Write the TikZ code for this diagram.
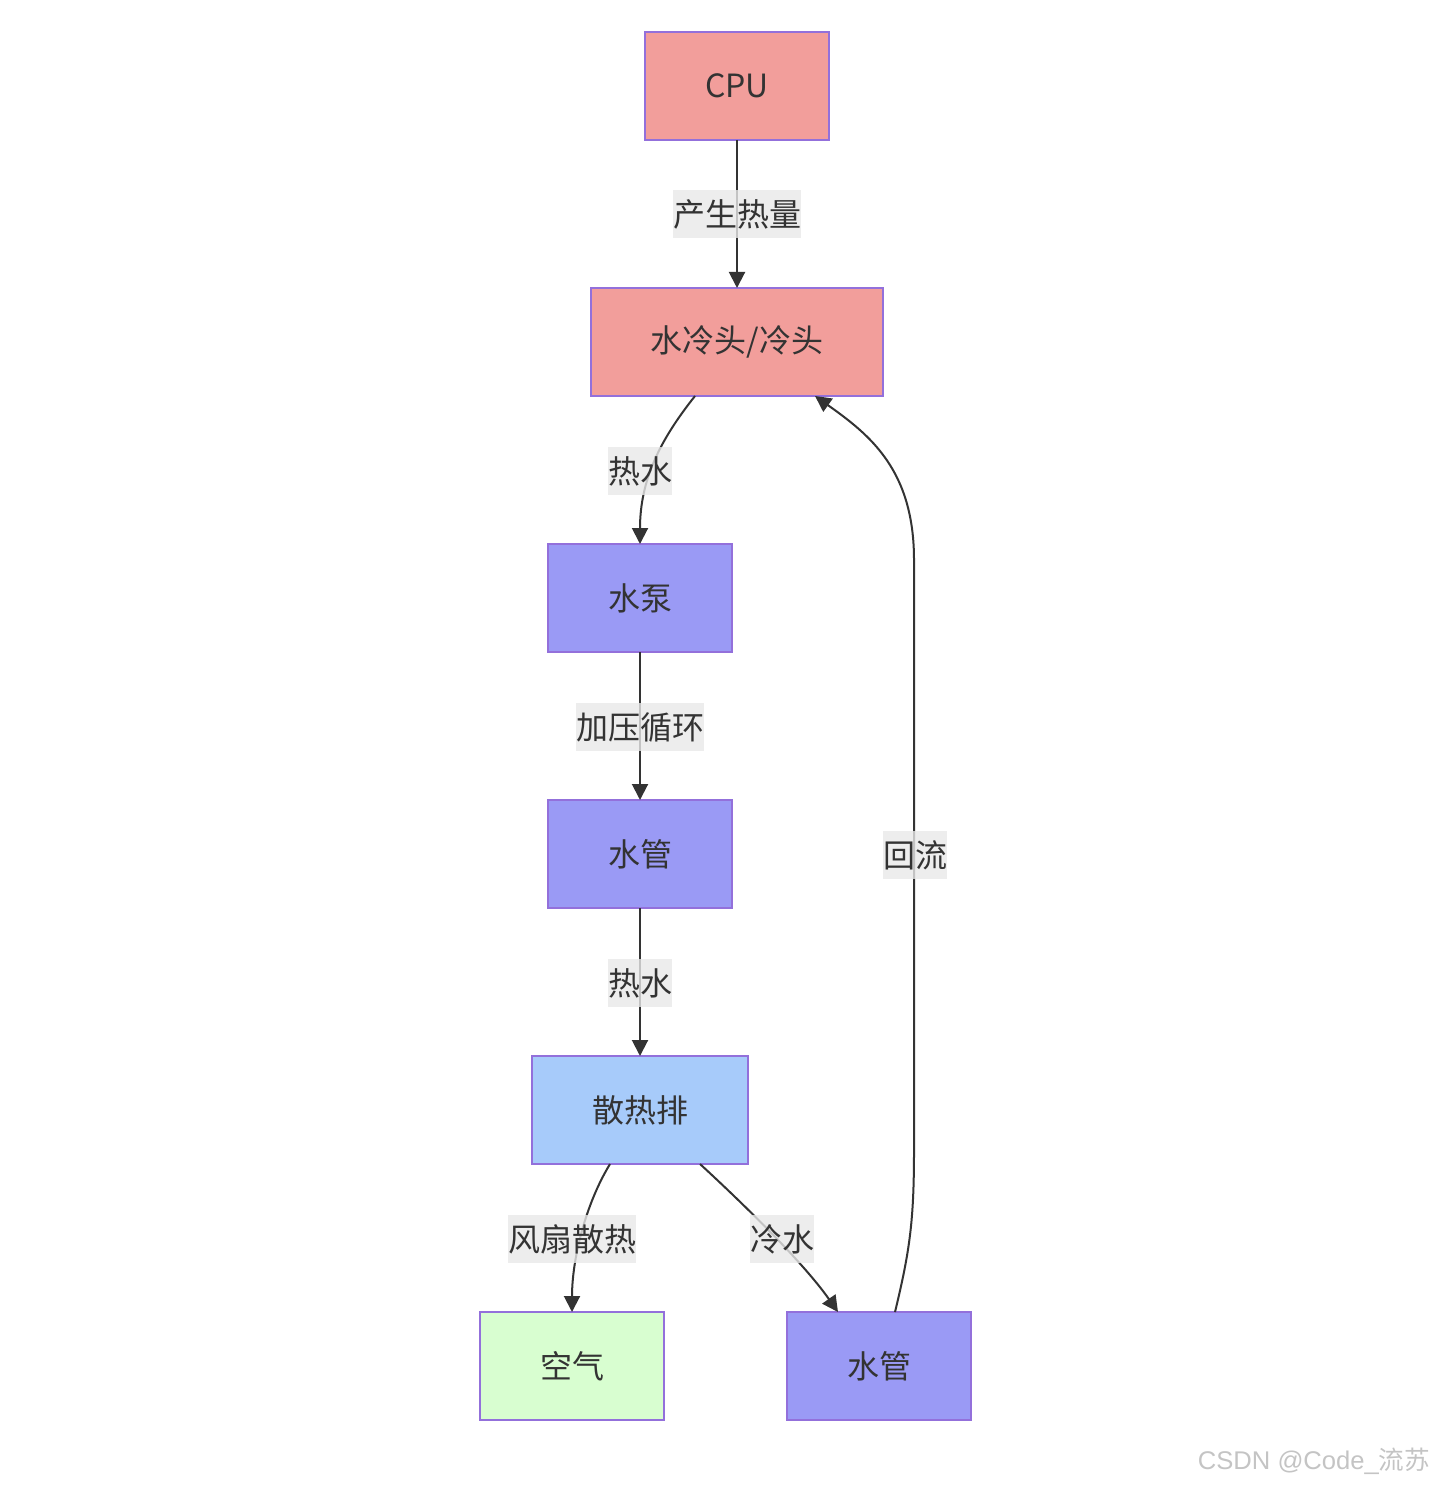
\documentclass[tikz,border=0pt]{standalone}
\usepackage{fontspec}
\setmainfont{Noto Sans CJK SC}
\newfontfamily\wmfont{Liberation Sans}
\usepackage{tikz}
\usetikzlibrary{arrows.meta,positioning,calc}
\definecolor{hotc}{HTML}{F29E9B}
\definecolor{pumpc}{HTML}{9A9AF5}
\definecolor{radc}{HTML}{A7CBFA}
\definecolor{airc}{HTML}{D8FED0}
\definecolor{edgec}{HTML}{9370DB}
\definecolor{lblc}{HTML}{E8E8E8}
\definecolor{ink}{HTML}{333333}
\definecolor{wmark}{HTML}{C4C4C4}
\tikzset{
  blk/.style={draw=edgec, line width=1pt, fill=pumpc, align=center, font=\fontsize{16pt}{19pt}\selectfont,
              text=ink, minimum width=92pt, minimum height=54pt, inner sep=0pt, outer sep=0pt},
  hot/.style={blk, fill=hotc},
  rad/.style={blk, fill=radc, minimum width=108pt},
  air/.style={blk, fill=airc},
  arr/.style={-{Triangle[length=8pt,width=8pt]}, line width=1pt, draw=ink},
  lbl/.style={fill=lblc, fill opacity=0.8, text opacity=1, text=ink, font=\fontsize{16pt}{19pt}\selectfont,
              inner xsep=0pt, inner ysep=0pt, minimum height=24pt},
}

\begin{document}
\begin{tikzpicture}[x=0.5pt, y=-0.5pt, node distance=74pt]
  \useasboundingbox (0,0) rectangle (1433,1486);
  \node[hot] (cpu) at (737,86) {CPU};
  \node[hot, below=of cpu, minimum width=146pt] (head) {水冷头/冷头};
  \node[blk, below=of head, xshift=-48.5pt] (pump) {水泵};
  \node[blk, below=of pump] (tube) {水管};
  \node[rad, below=of tube] (radi) {散热排};
  \node[air, below=of radi, xshift=-34pt] (air) {空气};
  \node[blk, below=of radi, xshift=119.5pt] (back) {水管};
  % connectors
  \draw[arr] (cpu) -- (head);
  \draw[arr] ([xshift=52pt]head.south west) .. controls (660,440) and (640,480) .. (pump.north);
  \draw[arr] (pump) -- (tube);
  \draw[arr] (tube) -- (radi);
  \draw[arr] ([xshift=39pt]radi.south west) .. controls (585,1205) and (572,1260) .. (air.north);
  \draw[arr] ([xshift=84pt]radi.south west) .. controls (750,1210) and (805,1265) .. ([xshift=25.5pt]back.north west);
  \draw[arr] ([xshift=54pt]back.north west) .. controls (910,1250) and (914,1220) .. (914,1150)
    -- (914,560) .. controls (914,470) and (870,435) .. ([xshift=112pt]head.south west);
  % edge labels
  \node[lbl] (l1) at (737,214) {产生热量};
  \node[lbl] (l2) at (640,471) {热水};
  \node[lbl] (l3) at (640,727) {加压循环};
  \node[lbl] (l4) at (640,983) {热水};
  \node[lbl] (l5) at (572,1239) {风扇散热};
  \node[lbl] (l6) at (782,1239) {冷水};
  \node[lbl] (l7) at (915,855) {回流};
  \node[text=wmark, font=\fontsize{12.8pt}{15pt}\selectfont, inner sep=0pt] (mark) at (1314,1461) {{\wmfont CSDN @Code\_}流苏};
\end{tikzpicture}
\end{document}
